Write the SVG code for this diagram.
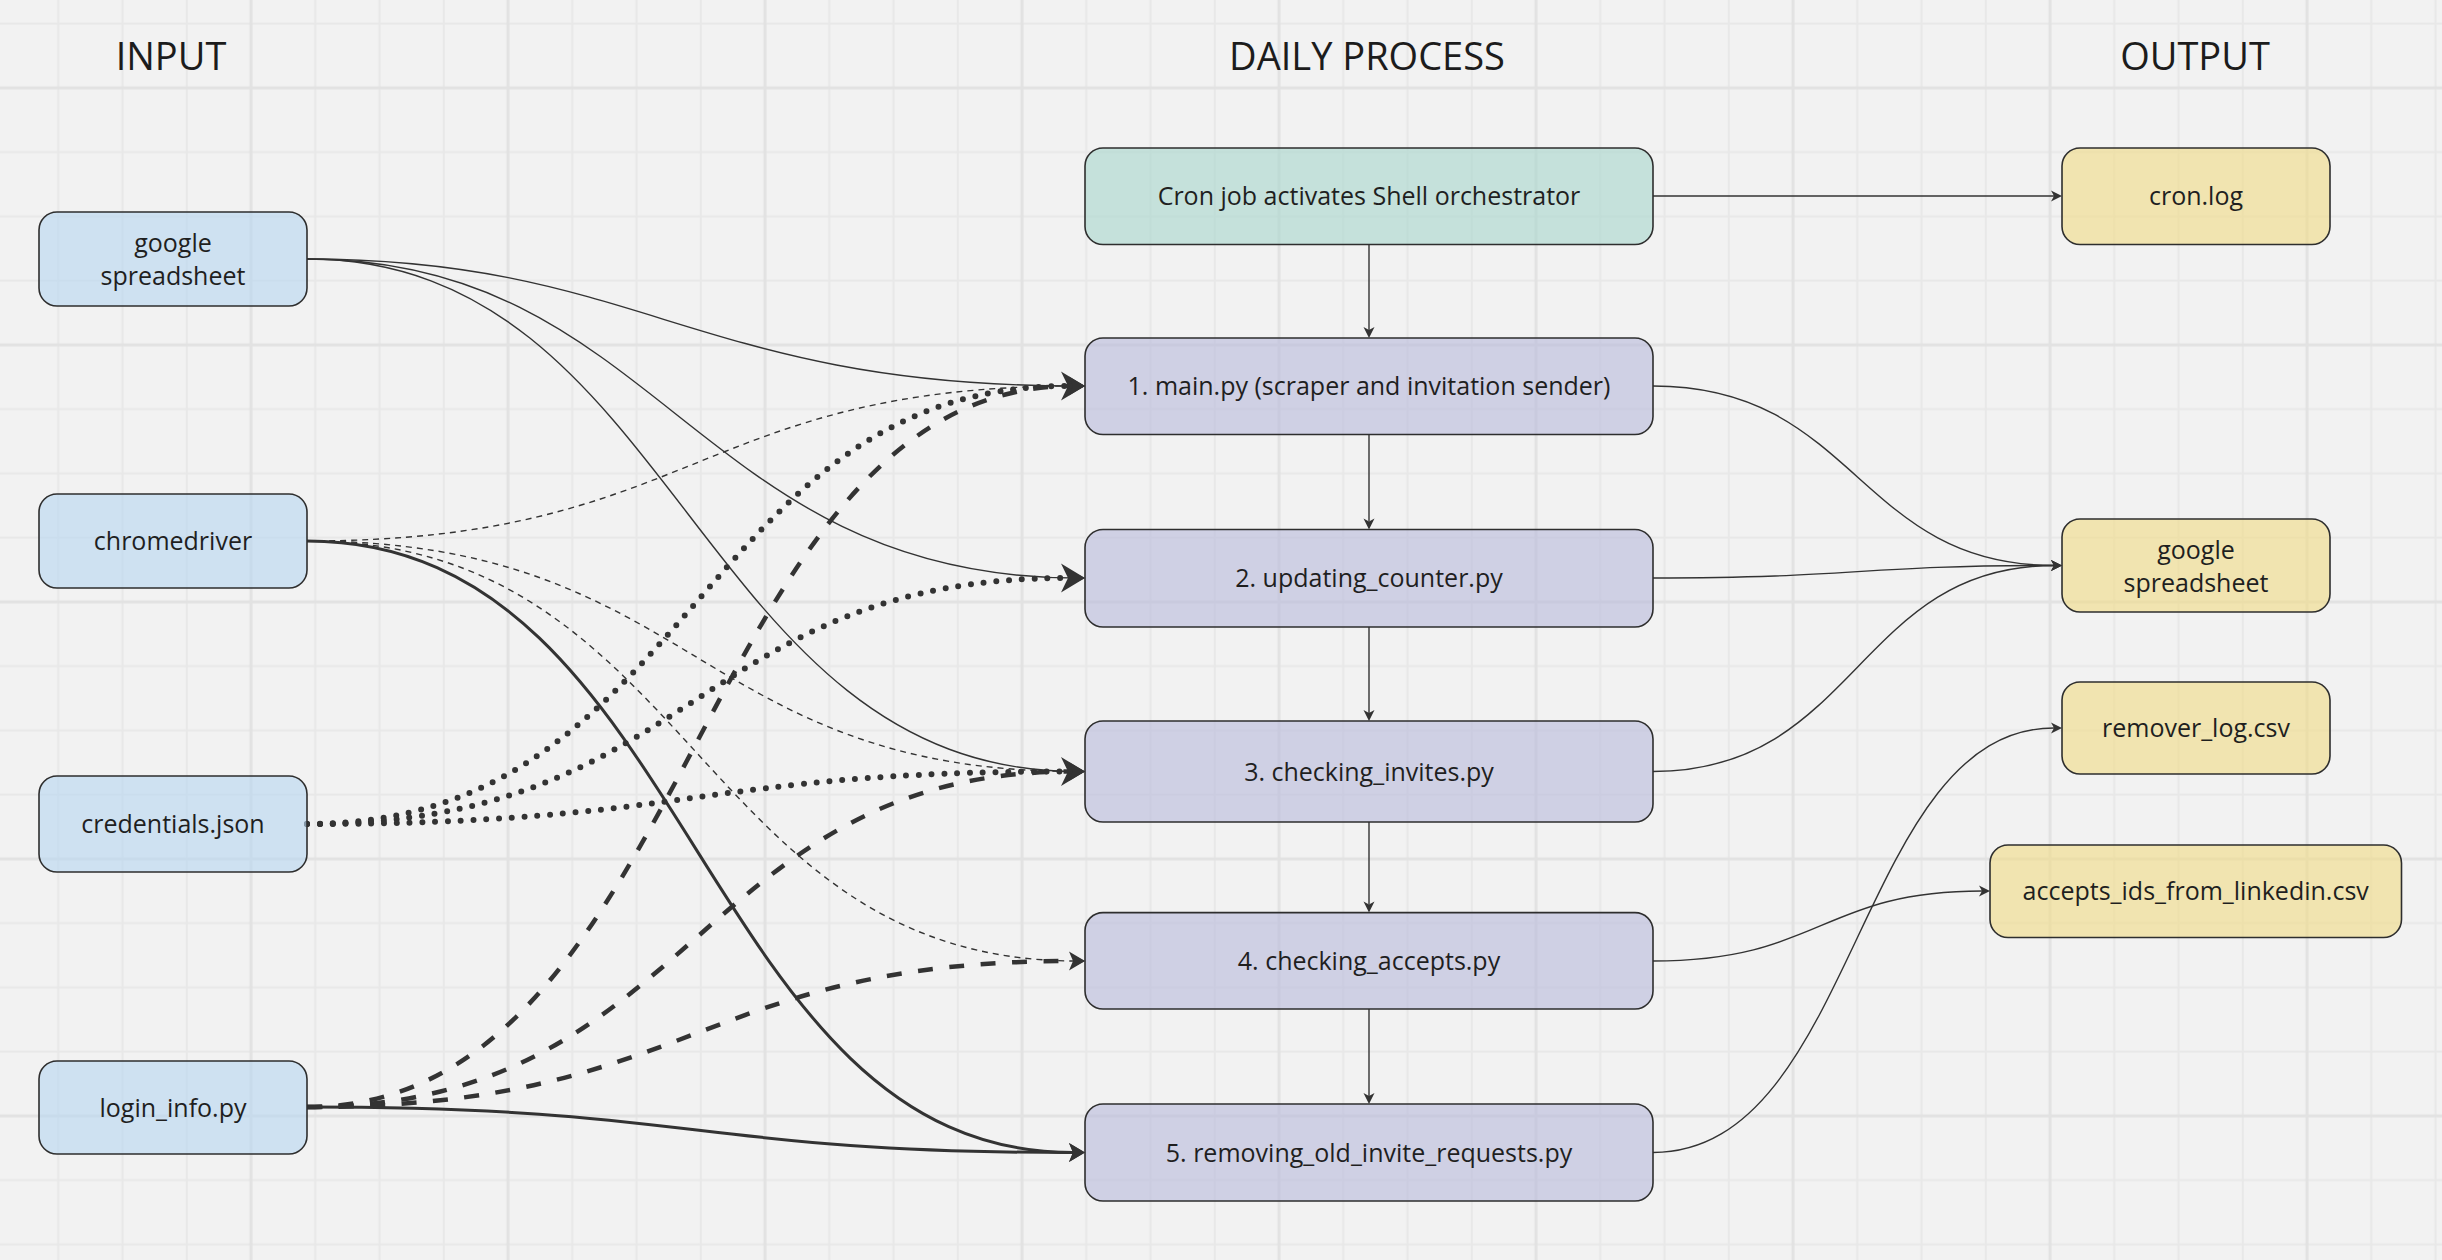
<svg xmlns="http://www.w3.org/2000/svg" width="2442" height="1260" viewBox="0 0 2442 1260">
<style>
.title{font-family:"Open Sans","Liberation Sans",sans-serif;font-size:38px;fill:#1c1c1c;text-anchor:middle}
.lbl{font-family:"Open Sans","Liberation Sans",sans-serif;font-size:25px;fill:#1f1f1f;text-anchor:middle}
.box{stroke:#2e2e2e;stroke-width:1.6;fill-opacity:0.62}
.in{fill:#b8d6f0}
.cron{fill:#aad7cd}
.proc{fill:#b9bbdb}
.out{fill:#f0db87}
.c{fill:none;stroke:#333}
.thin{stroke-width:1.4;marker-end:url(#aS)}
.tdash{stroke-width:1.4;stroke-dasharray:6 5;marker-end:url(#aS)}
.thick{stroke-width:3;marker-end:url(#aM)}
.kdash{stroke-width:4.5;stroke-dasharray:15 16.5;marker-end:url(#aM)}
.dot{stroke-width:6;stroke-dasharray:0 12.8;stroke-linecap:round;marker-end:url(#aL)}
</style>
<defs>
<pattern id="grid" x="-38.125" y="55.625" width="257" height="257" patternUnits="userSpaceOnUse">
<path d="M96.375,0V257M160.625,0V257M224.875,0V257M0,96.375H257M0,160.625H257M0,224.875H257" stroke="#e8e8e8" stroke-width="2" fill="none"/>
<path d="M32.125,0V257M0,32.125H257" stroke="#e2e2e2" stroke-width="3" fill="none"/>
</pattern>
<marker id="aS" viewBox="-4 -7 13 14" refX="0" refY="0" markerWidth="13" markerHeight="14" markerUnits="userSpaceOnUse" orient="auto" overflow="visible">
<path d="M8,0 L-3,-5.5 L0,0 L-3,5.5 Z" fill="#333"/>
</marker>
<marker id="aM" viewBox="-5 -10 18 20" refX="0" refY="0" markerWidth="18" markerHeight="20" markerUnits="userSpaceOnUse" orient="auto" overflow="visible">
<path d="M12,0 L-4,-9.5 L0,0 L-4,9.5 Z" fill="#333"/>
</marker>
<marker id="aL" viewBox="-8 -16 28 32" refX="0" refY="0" markerWidth="28" markerHeight="32" markerUnits="userSpaceOnUse" orient="auto" overflow="visible">
<path d="M17,0 L-7,-14.5 L0,0 L-7,14.5 Z" fill="#333"/>
</marker>
</defs>
<rect x="0" y="0" width="2442" height="1260" fill="#f2f2f2"/>
<rect x="0" y="0" width="2442" height="1260" fill="url(#grid)"/>

<g id="titles">
<text class="title" x="171" y="70">INPUT</text>
<text class="title" x="1367" y="70">DAILY PROCESS</text>
<text class="title" x="2195" y="70">OUTPUT</text>
</g>

<g id="connectors">
<path class="c thin" d="M307,259 C640,259 696,386 1077,386"/>
<path class="c thin" d="M307,259 C660,259 696,578 1077,578"/>
<path class="c thin" d="M307,259 C680,259 696,771.5 1077,771.5"/>
<path class="c tdash" d="M307,541 C696,541 696,386 1077,386"/>
<path class="c tdash" d="M307,541 C696,541 696,771.5 1077,771.5"/>
<path class="c tdash" d="M307,541 C696,541 696,961 1077,961"/>
<path class="c thick" d="M307,541 C696,541 696,1152.5 1073,1152.5"/>
<path class="c dot" d="M307,824 C696,824 696,386 1068,386"/>
<path class="c dot" d="M307,824 C696,824 696,578 1068,578"/>
<path class="c dot" d="M307,824 C696,824 696,771.5 1068,771.5"/>
<path class="c kdash" d="M307,1107 C696,1107 696,386 1073,386"/>
<path class="c kdash" d="M307,1107 C696,1107 696,771.5 1073,771.5"/>
<path class="c kdash" d="M307,1107 C696,1107 696,961 1073,961"/>
<path class="c thick" d="M307,1107 C696,1107 696,1152.5 1073,1152.5"/>
<path class="c thin" d="M1369,244.5 L1369,330"/>
<path class="c thin" d="M1369,434.5 L1369,521.5"/>
<path class="c thin" d="M1369,627 L1369,713"/>
<path class="c thin" d="M1369,822 L1369,904.6"/>
<path class="c thin" d="M1369,1009 L1369,1096"/>
<path class="c thin" d="M1653,196 L2054,196"/>
<path class="c thin" d="M1653,386 C1857,386 1857,565.5 2054,565.5"/>
<path class="c thin" d="M1653,578 C1857,578 1857,565.5 2054,565.5"/>
<path class="c thin" d="M1653,771.5 C1857,771.5 1857,565.5 2054,565.5"/>
<path class="c thin" d="M1653,961 C1821,961 1821,891 1982,891"/>
<path class="c thin" d="M1653,1152.5 C1857,1152.5 1857,728 2054,728"/>
</g>

<g id="in-google">
<rect class="box in" x="39" y="212" width="268" height="94" rx="18"/>
<text class="lbl" x="173" y="252">google</text>
<text class="lbl" x="173" y="285">spreadsheet</text>
</g>
<g id="in-chromedriver">
<rect class="box in" x="39" y="494" width="268" height="94" rx="18"/>
<text class="lbl" x="173" y="550">chromedriver</text>
</g>
<g id="in-credentials">
<rect class="box in" x="39" y="776" width="268" height="96" rx="18"/>
<text class="lbl" x="173" y="833">credentials.json</text>
</g>
<g id="in-login">
<rect class="box in" x="39" y="1061" width="268" height="93" rx="18"/>
<text class="lbl" x="173" y="1116.5">login_info.py</text>
</g>

<g id="cron">
<rect class="box cron" x="1085" y="148" width="568" height="96.5" rx="18"/>
<text class="lbl" x="1369" y="205">Cron job activates Shell orchestrator</text>
</g>
<g id="p1">
<rect class="box proc" x="1085" y="338" width="568" height="96.5" rx="18"/>
<text class="lbl" x="1369" y="395">1. main.py (scraper and invitation sender)</text>
</g>
<g id="p2">
<rect class="box proc" x="1085" y="529.5" width="568" height="97.5" rx="18"/>
<text class="lbl" x="1369" y="587">2. updating_counter.py</text>
</g>
<g id="p3">
<rect class="box proc" x="1085" y="721" width="568" height="101" rx="18"/>
<text class="lbl" x="1369" y="780.5">3. checking_invites.py</text>
</g>
<g id="p4">
<rect class="box proc" x="1085" y="912.6" width="568" height="96.4" rx="18"/>
<text class="lbl" x="1369" y="970">4. checking_accepts.py</text>
</g>
<g id="p5">
<rect class="box proc" x="1085" y="1104" width="568" height="97" rx="18"/>
<text class="lbl" x="1369" y="1161.5">5. removing_old_invite_requests.py</text>
</g>

<g id="out-cronlog">
<rect class="box out" x="2062" y="148" width="268" height="96.5" rx="18"/>
<text class="lbl" x="2196" y="205">cron.log</text>
</g>
<g id="out-google">
<rect class="box out" x="2062" y="519" width="268" height="93" rx="18"/>
<text class="lbl" x="2196" y="559">google</text>
<text class="lbl" x="2196" y="592">spreadsheet</text>
</g>
<g id="out-remover">
<rect class="box out" x="2062" y="682" width="268" height="92" rx="18"/>
<text class="lbl" x="2196" y="737">remover_log.csv</text>
</g>
<g id="out-accepts">
<rect class="box out" x="1990" y="845" width="411.5" height="92.5" rx="18"/>
<text class="lbl" x="2195.7" y="900">accepts_ids_from_linkedin.csv</text>
</g>
</svg>
